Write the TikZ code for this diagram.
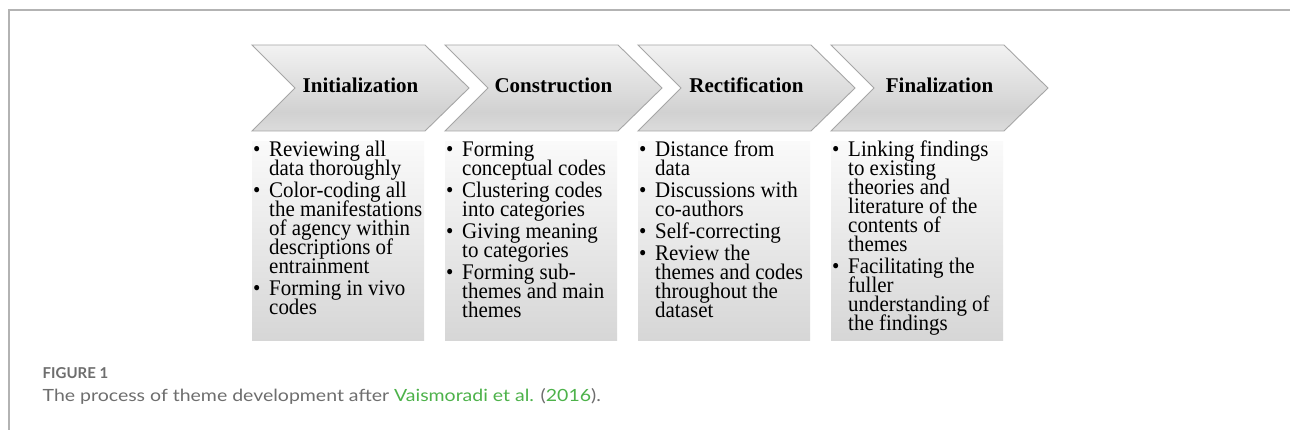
\documentclass[tikz,border=0pt]{standalone}
\usepackage{fontspec}
\setmainfont{Liberation Serif}
\newfontfamily\bodyfont[FakeStretch=0.94]{Liberation Serif}
\newfontfamily\capfont[FakeStretch=1.16]{Lato}
\newfontfamily\capboldfont{Lato}
\usetikzlibrary{calc}
\definecolor{framegray}{HTML}{B3B3B3}
\definecolor{chevline}{HTML}{A6A6A6}
\definecolor{capgray}{HTML}{6E6E6E}
\definecolor{capgreen}{HTML}{4DB24A}
\pgfdeclareverticalshading{chevsh}{100bp}{color(0bp)=(black!14); color(25bp)=(black!14); color(36bp)=(black!18); color(75bp)=(black!5); color(100bp)=(black!5)}
\pgfdeclareverticalshading{boxsh}{100bp}{color(0bp)=(black!16); color(25bp)=(black!16); color(75bp)=(black!2); color(100bp)=(black!2)}
\newcommand{\bl}[1]{\hbox{\makebox[16pt][l]{\textbullet}#1}}
\newcommand{\cl}[1]{\hbox{\hspace*{16pt}#1}}
\newcommand{\gp}{\vskip 3.1pt}
\newcommand{\blist}[1]{\vtop{\bodyfont\fontsize{22.3}{18.9}\selectfont\baselineskip=18.9pt\lineskiplimit=-100pt\lineskip=0pt #1}}
\tikzset{
  chevron/.style={shading=chevsh, draw=chevline, line width=0.9pt, line join=miter},
  bodybox/.style={shading=boxsh},
  title/.style={font=\fontsize{21}{21}\selectfont\bfseries, inner sep=0, anchor=base},
  body/.style={inner sep=0, anchor=base west},
  frame/.style={draw=framegray, line width=1.3pt}
}
\begin{document}
\begin{tikzpicture}[x=1pt,y=-1pt]
\fill[white] (0,0) rectangle (1290,430);
\useasboundingbox (0,0) rectangle (1290,430);
\coordinate (fl) at (9,430);
\coordinate (fc) at (9,10);
\coordinate (fr) at (1290,10);
\draw[frame] (fl) -- (fc) -- (fr);
\foreach \i/\name in {0/Initialization,1/Construction,2/Rectification,3/Finalization}{
  \pgfmathsetmacro{\L}{252+193*\i}
  \shadedraw[chevron] (\L,45) -- (\L+173,45) -- (\L+217,88) -- (\L+173,131) -- (\L,131) -- (\L+43,88) -- cycle;
  \shade[bodybox] (\L,142) rectangle (\L+172,340);
  \node[title] (t\i) at (\L+108.5,93) {\name};
}
\node[body] (b0) at (253,157) {\blist{\bl{Reviewing all}\cl{data thoroughly}\gp
\bl{Color-coding all}\cl{the manifestations}\cl{of agency within}\cl{descriptions of}\cl{entrainment}\gp
\bl{Forming in vivo}\cl{codes}}};
\node[body] (b1) at (446,157) {\blist{\bl{Forming}\cl{conceptual codes}\gp
\bl{Clustering codes}\cl{into categories}\gp
\bl{Giving meaning}\cl{to categories}\gp
\bl{Forming sub-}\cl{themes and main}\cl{themes}}};
\node[body] (b2) at (639,157) {\blist{\bl{Distance from}\cl{data}\gp
\bl{Discussions with}\cl{co-authors}\gp
\bl{Self-correcting}\gp
\bl{Review the}\cl{themes and codes}\cl{throughout the}\cl{dataset}}};
\node[body] (b3) at (832,157) {\blist{\bl{Linking findings}\cl{to existing}\cl{theories and}\cl{literature of the}\cl{contents of}\cl{themes}\gp
\bl{Facilitating the}\cl{fuller}\cl{understanding of}\cl{the findings}}};
\node[inner sep=0, anchor=base west, font=\capboldfont\bfseries\fontsize{15}{15}\selectfont, text=capgray] (fig) at (42.5,378.3) {FIGURE 1};
\node[inner sep=0, anchor=base west, font=\capfont\fontsize{16.8}{16.8}\selectfont, text=capgray] (cap) at (42.5,401.5) {The process of theme development after \textcolor{capgreen}{Vaismoradi et al.} (\textcolor{capgreen}{2016}).};
\end{tikzpicture}
\end{document}
